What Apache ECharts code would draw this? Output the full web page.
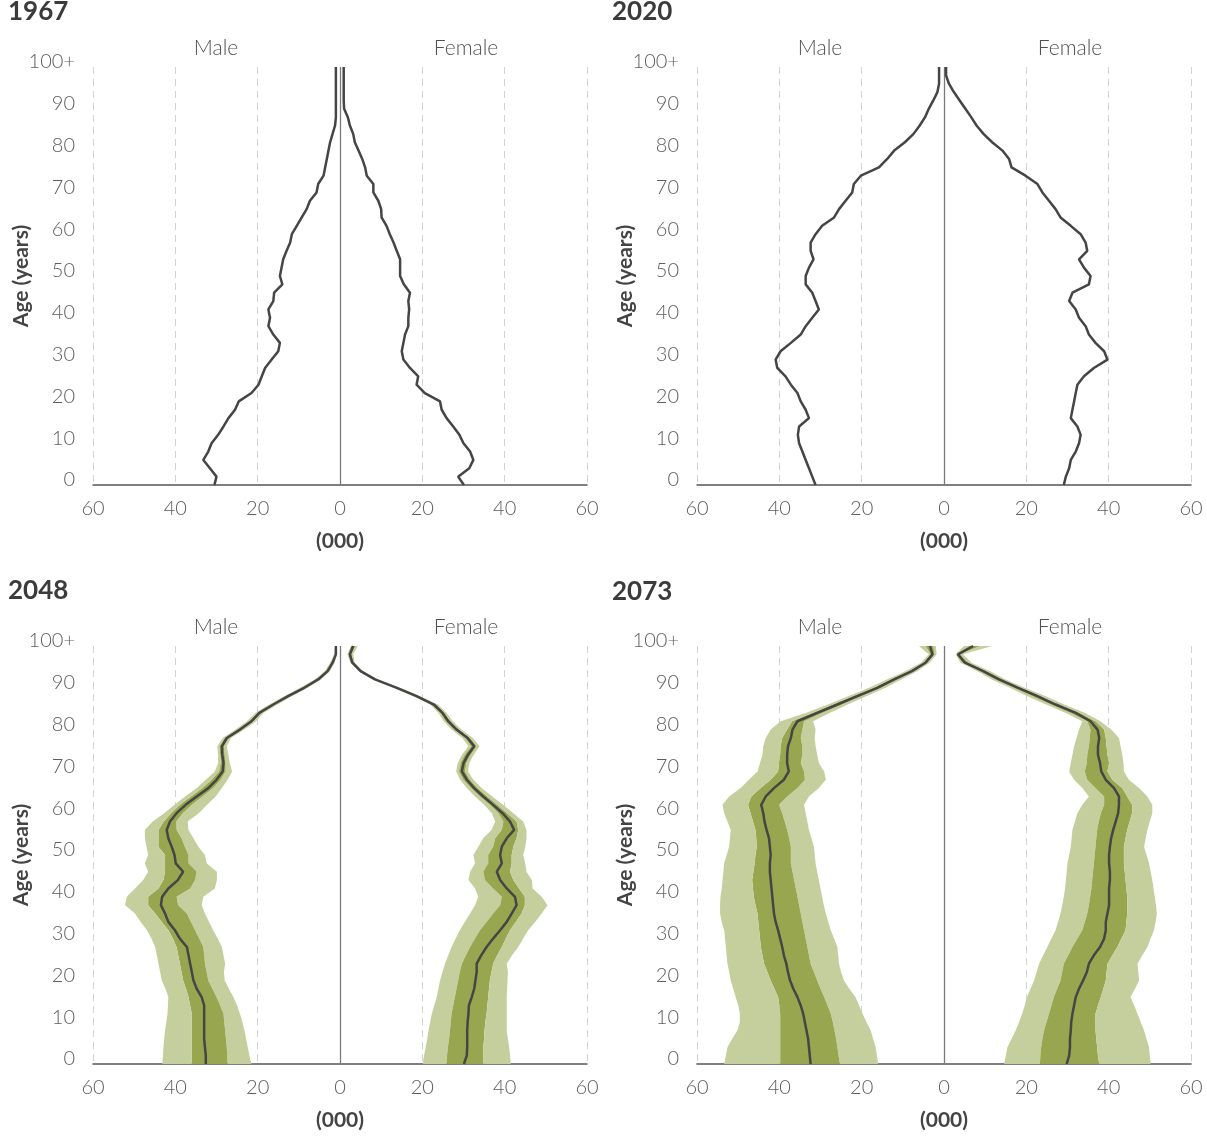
<!DOCTYPE html>
<html>
<head>
<meta charset="utf-8">
<title>Population pyramids</title>
<script src="https://cdn.jsdelivr.net/npm/echarts@6/dist/echarts.min.js"></script>
<style>
  html, body { margin: 0; padding: 0; background: #fff; }
  #chart { width: 1207px; height: 1136px; }
</style>
</head>
<body>
<div id="chart"></div>
<script>
// ages on the vertical axis (two-year steps), top one is shown as 100+
const ages = [0, 2, 4, 6, 8, 10, 12, 14, 16, 18, 20, 22, 24, 26, 28, 30, 32, 34, 36, 38, 40,
  42, 44, 46, 48, 50, 52, 54, 56, 58, 60, 62, 64, 66, 68, 70, 72, 74, 76, 78, 80,
  82, 84, 86, 88, 90, 92, 94, 96, 98, 100]

// population in thousands
const male1967 = [30.5, 30.0, 31.6, 33.2, 32.0, 31.2, 29.6, 28.3, 27.1, 25.5, 24.6,
  21.5, 19.8, 19.0, 18.2, 16.6, 15.0, 14.6, 16.2, 17.4, 17.0,
  17.4, 16.2, 16.0, 14.0, 14.6, 14.2, 13.8, 13.0, 12.1, 11.7,
  10.5, 9.3, 8.1, 7.3, 5.7, 5.3, 4.0, 3.6, 3.2, 2.8,
  2.4, 1.8, 1.2, 1.0, 1.0, 1.0, 1.0, 1.0, 1.0, 1.0]
const female1967 = [30.1, 28.7, 31.4, 32.4, 31.6, 30.0, 29.0, 27.5, 25.9, 24.7, 24.3,
  20.6, 18.6, 19.0, 17.0, 15.4, 15.0, 15.4, 15.8, 16.6, 16.6,
  16.8, 16.6, 17.0, 15.5, 14.6, 14.6, 14.6, 13.8, 13.0, 12.1,
  11.3, 10.1, 10.0, 9.3, 8.1, 8.1, 6.5, 6.1, 5.4, 4.5,
  3.6, 3.2, 2.4, 1.9, 1.0, 0.9, 0.9, 0.9, 0.9, 0.9]

const male2020 = [31.2, 32.0, 32.8, 33.6, 34.4, 35.2, 35.5, 35.2, 32.8, 33.6, 34.8,
  35.6, 37.2, 38.5, 40.5, 40.9, 39.7, 37.2, 34.8, 33.6, 32.0,
  30.4, 31.2, 32.0, 33.6, 33.6, 32.8, 31.7, 32.4, 32.4, 31.2,
  29.6, 26.7, 25.5, 23.9, 22.3, 21.9, 20.2, 15.8, 13.8, 12.1,
  9.5, 7.4, 5.9, 4.6, 3.7, 2.6, 1.6, 1.2, 1.2, 1.2]
const female2020 = [29.1, 29.6, 30.4, 30.8, 32.0, 32.8, 33.2, 32.4, 30.8, 31.2, 31.6,
  32.0, 32.4, 34.0, 36.4, 39.7, 38.9, 36.8, 35.2, 34.4, 32.8,
  32.0, 30.4, 31.2, 35.2, 35.6, 34.0, 32.8, 34.8, 34.4, 33.2,
  30.8, 28.3, 27.1, 25.5, 23.9, 22.7, 19.8, 16.4, 15.8, 14.2,
  11.7, 9.6, 7.9, 6.6, 5.2, 3.8, 2.4, 1.2, 0.5, 0.5]

// 2048 projection: median and the two uncertainty bands
const male2048 = [32.6, 32.6, 32.8, 33.0, 33.0, 33.0, 33.0, 33.0, 33.6, 34.8, 35.6,
  36.0, 36.4, 36.8, 37.2, 38.9, 40.1, 41.7, 42.5, 43.5, 43.2,
  41.7, 39.4, 38.1, 39.9, 40.2, 40.9, 41.7, 42.1, 41.3, 39.7,
  37.5, 34.8, 32.0, 30.0, 28.5, 28.3, 28.6, 28.7, 27.5, 24.3,
  21.5, 19.6, 16.2, 12.6, 8.7, 5.3, 3.0, 1.8, 1.0, 1.0]
const male2048OuterLo = [21.5, 22.0, 22.4, 22.8, 23.2, 23.7, 24.3, 25.0, 25.9, 27.0, 28.0,
  28.2, 27.9, 28.3, 28.7, 29.7, 30.8, 31.8, 32.8, 33.6, 33.2,
  30.4, 29.9, 29.9, 32.4, 32.8, 34.4, 35.6, 36.8, 37.0, 34.3,
  32.3, 30.2, 28.7, 27.3, 26.2, 26.8, 27.1, 27.5, 26.5, 23.2,
  20.4, 18.6, 15.2, 11.7, 7.8, 4.6, 2.4, 1.3, 0.7, 0.8]
const male2048InnerLo = [27.3, 27.4, 27.5, 27.7, 27.9, 28.1, 28.3, 29.1, 30.0, 31.0, 32.0,
  32.4, 32.8, 33.0, 33.2, 34.2, 35.2, 36.2, 37.2, 39.3, 39.7,
  36.4, 35.2, 34.8, 36.8, 36.8, 37.7, 38.5, 39.7, 39.8, 38.2,
  36.0, 33.4, 30.8, 29.0, 27.8, 27.8, 28.0, 28.2, 27.0, 23.8,
  21.0, 19.1, 15.8, 12.2, 8.3, 5.0, 2.7, 1.6, 0.9, 0.9]
const male2048InnerHi = [36.0, 36.0, 36.0, 36.0, 36.0, 36.0, 36.0, 36.4, 36.8, 37.4, 38.1,
  38.5, 38.9, 39.3, 39.7, 40.6, 41.7, 43.3, 44.9, 46.6, 46.6,
  44.1, 42.9, 42.5, 42.5, 42.5, 44.1, 44.1, 44.1, 42.8, 41.0,
  38.9, 36.2, 33.4, 31.2, 29.4, 29.0, 29.1, 29.3, 28.0, 24.9,
  22.1, 20.1, 16.7, 13.1, 9.2, 5.7, 3.4, 2.1, 1.2, 1.1]
const male2048OuterHi = [43.2, 43.0, 42.9, 42.7, 42.5, 42.2, 41.9, 41.8, 41.7, 42.4, 43.3,
  43.7, 44.1, 44.5, 44.9, 45.8, 46.9, 48.4, 49.8, 52.2, 51.8,
  49.8, 47.8, 46.6, 47.4, 46.6, 47.0, 47.4, 47.4, 45.5, 42.7,
  40.2, 37.6, 34.8, 32.6, 30.4, 29.6, 29.6, 29.8, 28.5, 25.4,
  22.6, 20.6, 17.2, 13.6, 9.7, 6.1, 3.7, 2.4, 1.4, 1.2]

const female2048 = [30.1, 30.8, 30.9, 30.9, 30.9, 31.0, 31.2, 31.3, 32.0, 32.6, 32.9,
  33.2, 33.2, 34.3, 35.6, 37.2, 38.9, 40.5, 41.7, 42.9, 42.5,
  40.5, 38.9, 38.1, 39.3, 38.9, 39.3, 40.5, 42.3, 41.3, 39.5,
  37.2, 34.8, 32.6, 30.8, 29.6, 30.0, 31.1, 32.6, 31.0, 28.3,
  26.3, 24.9, 22.8, 18.6, 13.8, 8.5, 5.0, 3.0, 2.4, 3.2]
const female2048OuterLo = [20.1, 20.4, 20.8, 21.2, 21.5, 21.9, 22.3, 22.9, 23.5, 23.9, 24.3,
  24.9, 25.5, 26.3, 27.1, 28.1, 29.1, 30.3, 31.6, 32.8, 33.6,
  32.8, 31.2, 31.6, 32.8, 32.4, 33.6, 34.8, 36.8, 37.7, 36.9,
  35.0, 32.8, 30.8, 29.2, 28.2, 28.6, 29.6, 31.2, 29.7, 27.1,
  25.2, 23.9, 21.9, 17.8, 13.1, 7.9, 4.5, 2.5, 1.8, 2.3]
const female2048InnerLo = [25.9, 26.0, 26.2, 26.5, 26.7, 26.9, 27.1, 27.5, 27.9, 28.3, 28.7,
  29.1, 29.6, 30.6, 31.6, 32.8, 34.0, 35.6, 37.2, 38.9, 39.3,
  37.2, 35.2, 34.8, 36.0, 36.0, 37.2, 37.7, 39.3, 39.7, 38.5,
  36.4, 34.0, 31.8, 30.0, 28.9, 29.3, 30.3, 31.9, 30.4, 27.7,
  25.7, 24.4, 22.3, 18.2, 13.4, 8.2, 4.7, 2.7, 2.0, 2.7]
const female2048InnerHi = [34.8, 34.8, 34.8, 35.0, 35.1, 35.3, 35.6, 35.8, 36.0, 36.2, 36.4,
  36.8, 37.2, 38.2, 39.3, 40.3, 41.3, 42.7, 44.1, 44.9, 44.9,
  43.5, 42.1, 41.3, 41.7, 41.7, 42.1, 42.9, 43.3, 42.9, 40.6,
  38.2, 35.8, 33.4, 31.6, 30.4, 30.7, 31.8, 33.2, 31.6, 28.9,
  26.8, 25.4, 23.3, 19.0, 14.2, 8.8, 5.3, 3.3, 2.8, 3.8]
const female2048OuterHi = [41.5, 41.3, 41.1, 40.8, 40.5, 40.5, 40.5, 40.5, 40.5, 40.6, 40.7,
  40.8, 40.5, 41.8, 43.3, 44.5, 45.7, 47.4, 49.0, 50.4, 49.0,
  46.8, 46.6, 45.3, 45.0, 44.5, 45.0, 45.3, 45.3, 44.5, 42.1,
  39.6, 37.0, 34.4, 32.4, 31.1, 31.4, 32.5, 33.9, 32.3, 29.5,
  27.4, 25.9, 23.8, 19.5, 14.6, 9.2, 5.6, 3.6, 3.2, 4.3]

// 2073 projection
const male2073 = [32.4, 32.6, 32.8, 33.0, 33.4, 33.8, 34.2, 34.8, 35.6, 36.6, 37.4,
  37.9, 38.3, 38.9, 39.3, 39.8, 40.3, 40.9, 41.3, 41.5, 41.7,
  41.9, 42.1, 42.3, 42.3, 42.1, 42.3, 42.5, 43.1, 43.6, 43.9,
  44.4, 43.3, 41.3, 38.9, 37.7, 38.1, 38.1, 37.9, 37.2, 36.8,
  35.6, 30.8, 25.9, 21.1, 16.2, 12.1, 7.8, 4.5, 2.8, 3.4]
const male2073OuterLo = [16.0, 16.3, 16.6, 17.2, 17.8, 18.8, 19.8, 20.6, 21.5, 23.0, 24.3,
  25.0, 25.5, 25.7, 25.9, 26.7, 27.5, 28.1, 28.7, 29.2, 29.6,
  30.0, 30.4, 30.8, 31.2, 31.4, 31.6, 32.2, 32.8, 33.2, 33.6,
  34.0, 32.8, 30.4, 28.7, 29.1, 30.4, 30.8, 31.2, 31.4, 31.2,
  31.8, 27.8, 23.4, 18.9, 14.2, 10.4, 6.4, 3.5, 1.8, 2.0]
const male2073InnerLo = [25.3, 25.6, 25.9, 26.2, 26.6, 27.0, 27.5, 28.3, 29.1, 30.0, 30.8,
  31.6, 32.4, 32.8, 33.2, 33.6, 34.0, 34.4, 34.8, 35.2, 35.6,
  36.0, 36.4, 36.8, 37.2, 37.2, 37.2, 37.6, 38.1, 38.7, 39.3,
  40.1, 38.1, 35.6, 33.8, 34.0, 34.8, 34.4, 34.4, 34.8, 34.4,
  34.0, 29.6, 24.8, 20.1, 15.3, 11.3, 7.1, 4.0, 2.3, 2.6]
const male2073InnerHi = [39.8, 39.8, 39.8, 39.8, 39.8, 39.8, 39.8, 40.0, 40.3, 41.2, 42.1,
  42.9, 43.7, 44.1, 44.5, 44.7, 44.9, 45.1, 45.3, 45.8, 46.2,
  46.4, 46.6, 46.3, 46.0, 45.8, 45.5, 45.6, 45.8, 46.4, 47.0,
  47.6, 46.8, 44.5, 42.1, 40.3, 40.1, 39.8, 39.7, 39.3, 38.1,
  36.9, 32.0, 27.0, 22.1, 17.1, 13.0, 8.5, 5.0, 3.3, 4.5]
const male2073OuterHi = [53.4, 53.0, 52.6, 51.5, 50.2, 49.6, 49.6, 50.0, 50.6, 51.2, 51.8,
  52.2, 52.6, 52.8, 53.0, 53.2, 53.4, 54.0, 54.4, 54.4, 54.3,
  54.0, 53.8, 53.6, 53.4, 52.8, 52.2, 52.0, 51.8, 52.6, 53.4,
  53.8, 52.2, 49.4, 47.4, 45.3, 44.7, 44.1, 43.9, 43.3, 42.1,
  39.7, 33.6, 28.2, 23.3, 18.2, 13.9, 9.3, 5.6, 3.7, 6.1]

const female2073 = [29.8, 30.4, 30.6, 30.6, 30.8, 30.9, 31.2, 31.6, 32.0, 32.8, 33.8,
  34.7, 35.2, 36.4, 37.9, 38.9, 39.3, 39.3, 39.7, 40.1, 40.1,
  40.1, 40.3, 40.3, 40.1, 40.1, 40.3, 40.6, 41.1, 41.7, 42.3,
  42.5, 42.5, 41.3, 39.3, 38.2, 37.9, 37.4, 37.4, 37.7, 37.3,
  35.6, 32.0, 27.1, 22.7, 18.0, 13.4, 9.5, 5.1, 3.4, 7.1]
const female2073OuterLo = [14.6, 15.0, 15.4, 16.4, 17.4, 18.2, 19.0, 19.6, 20.2, 21.0, 21.9,
  22.5, 23.1, 24.1, 25.1, 26.1, 27.1, 27.7, 28.3, 28.7, 29.1,
  29.4, 29.6, 29.8, 30.0, 30.4, 30.8, 31.0, 31.2, 31.8, 32.4,
  33.6, 35.2, 33.6, 31.6, 30.4, 30.8, 31.2, 31.6, 32.2, 32.8,
  33.6, 29.6, 24.8, 20.3, 16.0, 11.6, 8.0, 4.0, 2.8, 4.9]
const female2073InnerLo = [23.3, 23.4, 23.6, 23.9, 24.3, 24.9, 25.5, 26.1, 26.7, 27.5, 28.3,
  28.7, 29.1, 30.2, 31.2, 32.4, 33.6, 34.2, 34.8, 35.2, 35.5,
  35.8, 36.0, 36.2, 36.4, 36.6, 36.8, 37.0, 37.2, 37.6, 38.1,
  38.9, 38.9, 36.8, 34.8, 34.2, 34.7, 34.8, 35.2, 35.4, 35.6,
  34.8, 30.8, 26.0, 21.5, 17.0, 12.4, 8.8, 4.5, 3.0, 6.1]
const female2073InnerHi = [37.7, 37.4, 37.2, 37.0, 36.8, 36.8, 36.8, 37.4, 38.1, 38.7, 39.3,
  39.5, 39.7, 40.9, 42.1, 43.1, 44.1, 44.3, 44.5, 44.5, 44.5,
  44.3, 44.1, 43.9, 43.7, 43.7, 43.7, 44.1, 44.5, 45.1, 45.7,
  45.7, 44.5, 43.3, 40.9, 39.7, 40.1, 39.7, 39.5, 39.3, 38.9,
  36.8, 33.0, 28.0, 23.5, 18.8, 14.2, 10.3, 5.9, 3.8, 8.9]
const female2073OuterHi = [50.2, 50.0, 49.8, 49.2, 48.6, 47.8, 47.0, 46.2, 45.3, 46.4, 47.4,
  47.2, 47.0, 48.2, 49.4, 50.2, 51.0, 51.4, 51.7, 51.5, 51.2,
  50.9, 50.6, 50.2, 49.8, 49.2, 48.6, 49.0, 49.4, 50.0, 50.6,
  50.6, 49.4, 47.4, 44.9, 43.7, 43.6, 43.3, 42.9, 42.5, 40.6,
  38.0, 34.3, 29.2, 24.7, 19.6, 15.0, 11.1, 6.7, 4.6, 11.7]

const panels = [
  { year: '1967', male: male1967, female: female1967 },
  { year: '2020', male: male2020, female: female2020 },
  { year: '2048', male: male2048, female: female2048,
    maleBands: [male2048OuterLo, male2048InnerLo, male2048InnerHi, male2048OuterHi],
    femaleBands: [female2048OuterLo, female2048InnerLo, female2048InnerHi, female2048OuterHi] },
  { year: '2073', male: male2073, female: female2073,
    maleBands: [male2073OuterLo, male2073InnerLo, male2073InnerHi, male2073OuterHi],
    femaleBands: [female2073OuterLo, female2073InnerLo, female2073InnerHi, female2073OuterHi] }
]

const fontFamily = 'Lato, "Open Sans", sans-serif'
const LIGHT = '#c5cf9d'
const DARK = '#98a650'
const LINE = '#454545'
const gridPos = [[93, 67], [697, 67], [93, 646], [697, 646]]
const titlePos = [[8, 12], [612, 12], [8, 591], [612, 592]]

const grid = [], xAxis = [], yAxis = [], series = [], graphic = []

// stacked areas: first one is invisible, then light / dark / light
const addBands = (i, sign, bands, stackId) => {
    const [outLo, inLo, inHi, outHi] = bands
    const parts = [
        [outLo.map(v => sign * v), null],
        [inLo.map((v, k) => sign * (v - outLo[k])), LIGHT],
        [inHi.map((v, k) => sign * (v - inLo[k])), DARK],
        [outHi.map((v, k) => sign * (v - inHi[k])), LIGHT]
    ]
    parts.forEach(([data, color]) => {
        const s = {
            type: 'line', xAxisIndex: i, yAxisIndex: i, data: data,
            stack: stackId, stackStrategy: 'all',
            symbol: 'none', silent: true, z: 2,
            lineStyle: { width: 0, opacity: 0 }
        }
        if (color) s.areaStyle = { color: color, opacity: 1 }
        series.push(s)
    })
}

panels.forEach((p, i) => {
    const [left, top] = gridPos[i]
    grid.push({ left: left, top: top, width: 494, height: 418, containLabel: false, outerBoundsMode: 'none' })
    xAxis.push({
        type: 'value', gridIndex: i, min: -60, max: 60, interval: 20,
        name: '(000)', nameLocation: 'middle', nameGap: 46, nameMoveOverlap: false,
        nameTextStyle: { fontFamily, fontSize: 21, fontWeight: 'bold', color: '#444' },
        axisLine: { show: true, onZero: false, lineStyle: { color: '#555', width: 1.5 } },
        axisTick: { show: false },
        axisLabel: { formatter: v => Math.abs(v), margin: 14, fontSize: 20, fontWeight: 300, color: '#5e5e5e', fontFamily },
        splitLine: { show: true, lineStyle: { color: '#d2d2d2', type: [7, 5], width: 1 } }
    })
    yAxis.push({
        type: 'category', gridIndex: i, data: ages, boundaryGap: false,
        name: 'Age (years)', nameLocation: 'middle', nameGap: 61, nameRotate: 90, nameMoveOverlap: false,
        nameTextStyle: { fontFamily, fontSize: 21, fontWeight: 'bold', color: '#444' },
        axisLine: { show: false, onZero: false },
        axisTick: { show: false },
        axisLabel: {
            interval: 4, margin: 18, fontSize: 20, fontWeight: 300, color: '#5e5e5e', fontFamily,
            verticalAlign: 'bottom', lineHeight: 10,
            formatter: v => (v == 100 ? '100+' : v)
        },
        splitLine: { show: false }
    })

    if (p.maleBands) {
        addBands(i, -1, p.maleBands, 'm' + i)
        addBands(i, 1, p.femaleBands, 'f' + i)
    }

    series.push({
        type: 'line', xAxisIndex: i, yAxisIndex: i, data: p.male.map(v => -v),
        symbol: 'none', silent: true, z: 5,
        lineStyle: { color: LINE, width: 2.5 },
        markLine: {
            silent: true, symbol: 'none', label: { show: false },
            lineStyle: { color: '#7a7a7a', width: 1.3, type: 'solid' },
            data: [{ xAxis: 0 }]
        }
    })
    series.push({
        type: 'line', xAxisIndex: i, yAxisIndex: i, data: p.female,
        symbol: 'none', silent: true, z: 5,
        lineStyle: { color: LINE, width: 2.5 }
    })

    const [tx, ty] = titlePos[i]
    graphic.push({
        type: 'text', x: tx, y: ty, silent: true,
        style: { text: p.year, fontFamily, fontSize: 26, fontWeight: 'bold', fill: '#3b3b3b', align: 'left', verticalAlign: 'middle' }
    })
    const zeroX = left + 247
    const labelY = top - 19
    graphic.push({
        type: 'text', x: zeroX - 124, y: labelY, silent: true,
        style: { text: 'Male', fontFamily, fontSize: 21, fontWeight: 300, fill: '#505050', align: 'center', verticalAlign: 'middle' }
    })
    graphic.push({
        type: 'text', x: zeroX + 126, y: labelY, silent: true,
        style: { text: 'Female', fontFamily, fontSize: 21, fontWeight: 300, fill: '#505050', align: 'center', verticalAlign: 'middle' }
    })
})

const myChart = echarts.init(document.getElementById('chart'))
myChart.setOption({
    animation: false,
    backgroundColor: '#fff',
    grid: grid,
    xAxis: xAxis,
    yAxis: yAxis,
    series: series,
    graphic: graphic
})
</script>
</body>
</html>
